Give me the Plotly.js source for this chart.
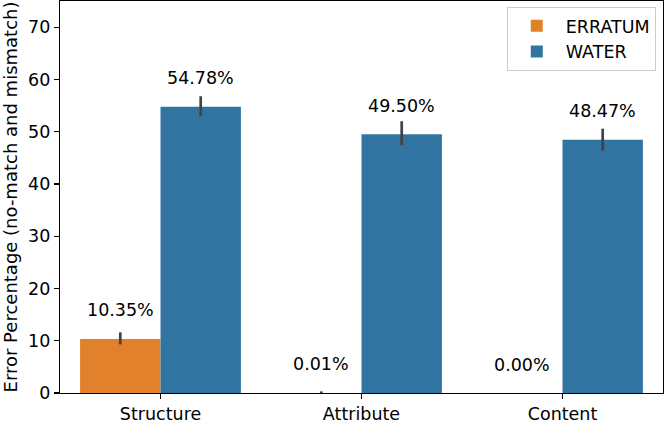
<!DOCTYPE html>
<html>
<head>
<meta charset="utf-8">
<script src="https://cdn.plot.ly/plotly-3.0.1.min.js"></script>
<style>html,body{margin:0;padding:0;background:#fff;}#chart{width:665px;height:423px;}</style>
</head>
<body>
<div id="chart"></div>
<script>
const categories = ["Structure", "Attribute", "Content"];
const seriesNames = ["ERRATUM", "WATER"];
const erratumValues = [10.35, 0.01, 0.00];
const waterValues = [54.78, 49.50, 48.47];
const erratumErrPlus = [1.25, 0.3, 0];
const erratumErrMinus = [1.05, 0.01, 0];
const waterErrPlus = [2.0, 2.5, 2.1];
const waterErrMinus = [1.8, 2.1, 2.1];
const seriesColors = ["#e1812c", "#3274a1"];
const yTicks = [0, 10, 20, 30, 40, 50, 60, 70];

const FONT = "DejaVu Sans";
const FS = 17.5;
const values = [erratumValues, waterValues];
const errP = [erratumErrPlus, waterErrPlus];
const errM = [erratumErrMinus, waterErrMinus];

const traces = seriesNames.map((name, s) => ({
  type: "bar",
  name: name,
  x: categories,
  y: values[s],
  marker: {color: seriesColors[s], line: {width: 0}},
  error_y: {type: "data", symmetric: false, array: errP[s], arrayminus: errM[s],
            color: "#424242", thickness: 2.7, width: 0, visible: true},
  hoverinfo: "none"
}));

const annotations = [];
seriesNames.forEach((name, s) => {
  values[s].forEach((v, i) => {
    annotations.push({
      x: i + (s === 0 ? -0.2 : 0.2), y: v, xref: "x", yref: "y",
      text: v.toFixed(2) + "%", showarrow: false, yanchor: "middle", xanchor: "center",
      yshift: 28.5, font: {family: FONT, size: FS, color: "#000"}
    });
  });
});

const layout = {
  width: 665, height: 423,
  margin: {l: 60, r: 2, t: 1, b: 30, pad: 0},
  paper_bgcolor: "#fff", plot_bgcolor: "#fff",
  barmode: "group", bargap: 0.2, bargroupgap: 0,
  font: {family: FONT, size: FS, color: "#000"},
  showlegend: true,
  legend: {x: 0.988, xanchor: "right", y: 0.985, yanchor: "top",
           bgcolor: "#fff", bordercolor: "#cccccc", borderwidth: 1, itemwidth: 48,
           font: {family: FONT, size: FS, color: "#000"}, tracegroupgap: 0},
  xaxis: {type: "category", range: [-0.5, 2.5], showline: true, mirror: true, linecolor: "#000", linewidth: 1.2,
          ticks: "outside", ticklen: 5, tickcolor: "#000", tickwidth: 1.2, showgrid: false, zeroline: false,
          tickfont: {family: FONT, size: FS, color: "#000"}},
  yaxis: {range: [0, 75], showline: true, mirror: true, linecolor: "#000", linewidth: 1.2,
          ticks: "outside", ticklen: 5, tickcolor: "#000", tickwidth: 1.2, showgrid: false, zeroline: false,
          tickvals: yTicks, ticktext: yTicks.map(String),
          tickfont: {family: FONT, size: FS, color: "#000"},
          title: {text: "Error Percentage (no-match and mismatch)", standoff: 7,
                  font: {family: FONT, size: 18, color: "#000"}}},
  annotations: annotations
};

Plotly.newPlot("chart", traces, layout, {staticPlot: true, displayModeBar: false});
</script>
</body>
</html>
